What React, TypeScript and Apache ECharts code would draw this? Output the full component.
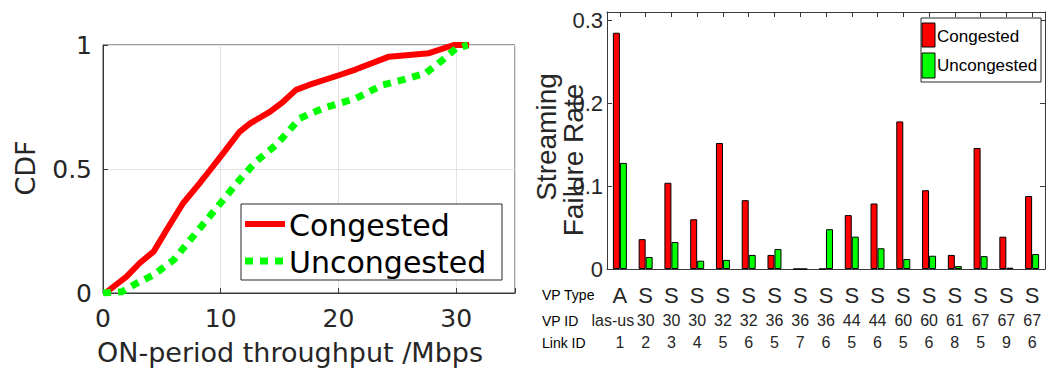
import React, { useEffect, useRef } from "react";
import * as echarts from "echarts";

// ---- Left panel: CDF of ON-period throughput ----
const congestedThroughput = [0.2, 2.0, 3.1, 4.3, 5.4, 6.8, 8.2, 9.1, 10.2, 11.6, 12.5, 14.2, 15.3, 16.4, 17.5, 20.1, 21.5, 24.3, 26.0, 27.7, 29.8, 31.1];
const congestedCdf = [0, 0.066, 0.12, 0.167, 0.254, 0.362, 0.442, 0.496, 0.563, 0.65, 0.684, 0.731, 0.771, 0.819, 0.839, 0.879, 0.902, 0.953, 0.96, 0.967, 1.0, 1.0];
const uncongestedThroughput = [0, 1.6, 2.85, 4.3, 6.0, 7.4, 8.8, 10.2, 11.6, 13.0, 14.7, 15.85, 16.7, 18.7, 21.5, 23.75, 25.45, 27.4, 28.85, 30.0, 31.0];
const uncongestedCdf = [0, 0.005, 0.039, 0.073, 0.133, 0.214, 0.294, 0.375, 0.456, 0.53, 0.597, 0.657, 0.704, 0.745, 0.785, 0.839, 0.859, 0.886, 0.94, 0.987, 1.0];

// ---- Right panel: streaming failure rate per VP / link ----
const vpTypes = ["A", "S", "S", "S", "S", "S", "S", "S", "S", "S", "S", "S", "S", "S", "S", "S", "S"];
const vpIds = ["las-us", "30", "30", "30", "32", "32", "36", "36", "36", "44", "44", "60", "60", "61", "67", "67", "67"];
const linkIds = ["1", "2", "3", "4", "5", "6", "5", "7", "6", "5", "6", "5", "6", "8", "5", "9", "6"];
const congestedFailure = [0.285, 0.036, 0.104, 0.06, 0.152, 0.083, 0.017, 0, 0, 0.065, 0.079, 0.178, 0.095, 0.017, 0.146, 0.039, 0.088];
const uncongestedFailure = [0.128, 0.0145, 0.0325, 0.01, 0.011, 0.017, 0.024, 0, 0.048, 0.039, 0.025, 0.012, 0.016, 0.0035, 0.0155, 0.0015, 0.018];

const rowLabels = ["VP Type", "VP ID", "Link ID"];
const legendNames = ["Congested", "Uncongested"];

const WIDE = "'DejaVu Sans', sans-serif";
const NARROW = "'Liberation Sans Narrow', 'Arial Narrow', 'Liberation Sans', Arial, sans-serif";
const TXT = "#262626";
const AX = "#3a3a3a";

export default function App() {
  const ref = useRef<HTMLDivElement>(null);
  useEffect(() => {
    if (!ref.current) return;
    const chart = echarts.init(ref.current, null, { renderer: "svg" });
    const cats = vpTypes.map((_, i) => String(i));
    const zip = (xs: number[], ys: number[]) => xs.map((x, i) => [x, ys[i]]);
    const option: any = {
      animation: false,
      backgroundColor: "#ffffff",
      grid: [
        { left: 103, top: 45, width: 412, height: 248, show: true, borderColor: AX, borderWidth: 1, backgroundColor: "transparent" },
        { left: 607, top: 12, width: 438, height: 257, show: false },
      ],
      xAxis: [
        {
          gridIndex: 0, type: "value", min: 0, max: 35, interval: 10,
          axisLine: { show: true, lineStyle: { color: AX } },
          axisTick: { show: true, inside: true, length: 5, lineStyle: { color: AX } },
          splitLine: { show: true, lineStyle: { color: "#e3e3e3", width: 1 } },
          axisLabel: { margin: 13, color: TXT, fontFamily: WIDE, fontSize: 25, formatter: (v: number) => (v % 10 === 0 ? String(v) : "") },
        },
        {
          gridIndex: 1, type: "category", data: cats, position: "bottom",
          axisLine: { show: true, onZero: false, lineStyle: { color: AX } },
          axisTick: { show: false },
          axisLabel: {
            interval: 0, margin: 13, color: TXT, hideOverlap: false,
            formatter: (_: string, i: number) =>
              `{t|${vpTypes[i]}}\n{${i === 0 ? "i0" : "i"}|${vpIds[i]}}\n{l|${linkIds[i]}}`,
            rich: {
              t: { fontFamily: NARROW, fontSize: 22, lineHeight: 27, color: TXT, align: "center" },
              i: { fontFamily: NARROW, fontSize: 16, lineHeight: 23, color: TXT, align: "center" },
              i0: { fontFamily: NARROW, fontSize: 16, lineHeight: 23, color: TXT, align: "center", padding: [0, 14, 0, 0] },
              l: { fontFamily: NARROW, fontSize: 16, lineHeight: 21, color: TXT, align: "center" },
            },
          },
        },
        {
          gridIndex: 1, type: "category", data: cats, position: "top",
          axisLine: { show: true, onZero: false, lineStyle: { color: AX } },
          axisTick: { show: true, inside: true, length: 5, alignWithLabel: true, lineStyle: { color: AX } },
          axisLabel: { show: false },
        },
      ],
      yAxis: [
        {
          gridIndex: 0, type: "value", min: 0, max: 1, interval: 0.5,
          axisLine: { show: true, lineStyle: { color: AX } },
          axisTick: { show: true, inside: true, length: 5, lineStyle: { color: AX } },
          splitLine: { show: true, lineStyle: { color: "#e3e3e3", width: 1 } },
          axisLabel: { margin: 11, color: TXT, fontFamily: WIDE, fontSize: 25 },
        },
        {
          gridIndex: 1, type: "value", min: 0, max: 0.31, interval: 0.1, position: "left",
          axisLine: { show: true, lineStyle: { color: AX } },
          axisTick: { show: true, inside: true, length: 5, lineStyle: { color: AX } },
          splitLine: { show: false },
          axisLabel: {
            margin: 4, color: TXT, fontFamily: NARROW, fontSize: 22,
            formatter: (v: number) => (Math.abs(v * 10 - Math.round(v * 10)) < 1e-6 ? String(Math.round(v * 10) / 10) : ""),
          },
        },
        {
          gridIndex: 1, type: "value", min: 0, max: 0.31, interval: 0.1, position: "right",
          axisLine: { show: true, lineStyle: { color: AX } },
          axisTick: { show: true, inside: true, length: 5, lineStyle: { color: AX } },
          splitLine: { show: false },
          axisLabel: { show: false },
        },
      ],
      series: [
        {
          name: legendNames[0], type: "line", xAxisIndex: 0, yAxisIndex: 0, showSymbol: false,
          data: zip(congestedThroughput, congestedCdf),
          lineStyle: { color: "#ff0000", width: 6 }, z: 3,
        },
        {
          name: legendNames[1], type: "line", xAxisIndex: 0, yAxisIndex: 0, showSymbol: false,
          data: zip(uncongestedThroughput, uncongestedCdf),
          lineStyle: { color: "#00ff00", width: 7, type: [8, 7], cap: "butt" }, z: 4,
        },
        {
          name: legendNames[0], type: "bar", xAxisIndex: 1, yAxisIndex: 1, barWidth: 7, barGap: "0%",
          data: congestedFailure,
          itemStyle: { color: "#ff0000", borderColor: "#000000", borderWidth: 1 },
        },
        {
          name: legendNames[1], type: "bar", xAxisIndex: 1, yAxisIndex: 1, barWidth: 7, barGap: "0%",
          data: uncongestedFailure,
          itemStyle: { color: "#00ff00", borderColor: "#000000", borderWidth: 1 },
        },
      ],
      graphic: [
        // left axis titles
        { type: "text", x: 25, y: 168, rotation: Math.PI / 2, style: { text: "CDF", fontFamily: WIDE, fontSize: 27, fill: TXT, align: "center", verticalAlign: "middle" } },
        { type: "text", x: 290, y: 352, style: { text: "ON-period throughput /Mbps", fontFamily: WIDE, fontSize: 27, fill: TXT, align: "center", verticalAlign: "middle" } },
        // left legend
        { type: "rect", shape: { x: 241, y: 204, width: 261, height: 76 }, style: { fill: "#ffffff", stroke: TXT, lineWidth: 1 }, z: 10 },
        { type: "line", shape: { x1: 245, y1: 224, x2: 285, y2: 224 }, style: { stroke: "#ff0000", lineWidth: 6 }, z: 11 },
        { type: "line", shape: { x1: 245, y1: 261, x2: 285, y2: 261 }, style: { stroke: "#00ff00", lineWidth: 7, lineDash: [8, 7] }, z: 11 },
        { type: "text", x: 289, y: 225, style: { text: legendNames[0], fontFamily: WIDE, fontSize: 30, fill: "#000000", align: "left", verticalAlign: "middle" }, z: 11 },
        { type: "text", x: 289, y: 262, style: { text: legendNames[1], fontFamily: WIDE, fontSize: 30, fill: "#000000", align: "left", verticalAlign: "middle" }, z: 11 },
        // right axis title
        { type: "text", x: 546, y: 137, rotation: Math.PI / 2, style: { text: "Streaming", fontFamily: "'Liberation Sans', sans-serif", fontSize: 28, fill: TXT, align: "center", verticalAlign: "middle" } },
        { type: "text", x: 573, y: 160, rotation: Math.PI / 2, style: { text: "Failure Rate", fontFamily: "'Liberation Sans', sans-serif", fontSize: 28, fill: TXT, align: "center", verticalAlign: "middle" } },
        // row labels
        { type: "text", x: 542, y: 295, style: { text: rowLabels[0], fontFamily: NARROW, fontSize: 14, fill: "#000000", align: "left", verticalAlign: "middle" } },
        { type: "text", x: 542, y: 321, style: { text: rowLabels[1], fontFamily: NARROW, fontSize: 14, fill: "#000000", align: "left", verticalAlign: "middle" } },
        { type: "text", x: 542, y: 343, style: { text: rowLabels[2], fontFamily: NARROW, fontSize: 14, fill: "#000000", align: "left", verticalAlign: "middle" } },
        // right legend
        { type: "rect", shape: { x: 921, y: 18, width: 120, height: 64 }, style: { fill: "#ffffff", stroke: TXT, lineWidth: 1 }, z: 10 },
        { type: "rect", shape: { x: 922, y: 23, width: 13, height: 24 }, style: { fill: "#ff0000", stroke: "#000000", lineWidth: 1 }, z: 11 },
        { type: "rect", shape: { x: 922, y: 53, width: 13, height: 25 }, style: { fill: "#00ff00", stroke: "#000000", lineWidth: 1 }, z: 11 },
        { type: "text", x: 937, y: 36, style: { text: legendNames[0], fontFamily: NARROW, fontSize: 17, fill: "#000000", align: "left", verticalAlign: "middle" }, z: 11 },
        { type: "text", x: 937, y: 65, style: { text: legendNames[1], fontFamily: NARROW, fontSize: 17, fill: "#000000", align: "left", verticalAlign: "middle" }, z: 11 },
      ],
    };
    chart.setOption(option);
    return () => chart.dispose();
  }, []);
  return <div ref={ref} style={{ position: "absolute", left: 0, top: 0, width: 1047, height: 368 }} />;
}
